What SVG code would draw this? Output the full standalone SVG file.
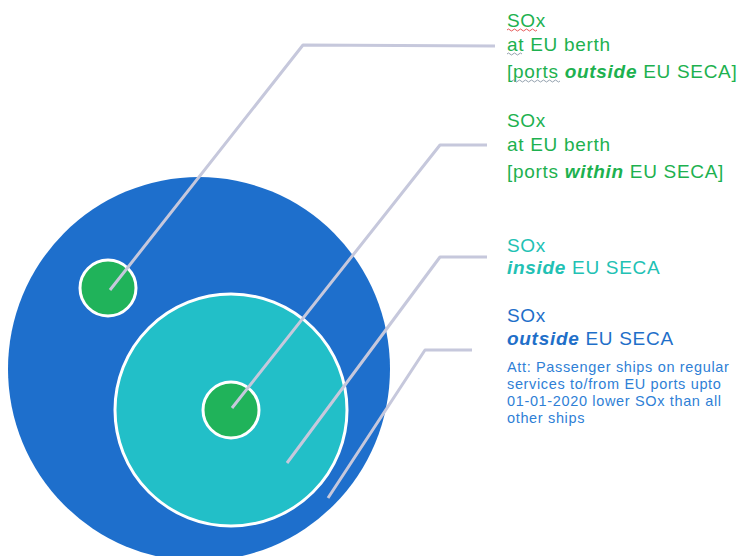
<svg xmlns="http://www.w3.org/2000/svg" width="743" height="556" viewBox="0 0 743 556">
<style>
text{font-family:"Liberation Sans",Arial,sans-serif;}
.t{font-size:19px;letter-spacing:0.7px;}
.s{font-size:14.5px;letter-spacing:0.65px;fill:#2f7fd6;}
.g{fill:#1db14f;}
.c{fill:#22c1b4;}
.b{fill:#1f6fc9;}
.bi{font-weight:bold;font-style:italic;}
.ln{fill:none;stroke:#c6c8dc;stroke-width:3;stroke-linejoin:round;}
.sq{fill:none;stroke:#e03030;stroke-width:0.8;}
.sg{fill:none;stroke:#7a8a9a;stroke-width:0.8;}
</style>
<rect width="743" height="556" fill="#ffffff"/>
<g id="outer-circle"><ellipse cx="199" cy="369" rx="191" ry="192" fill="#1e6fcc"/></g>
<g id="teal-circle"><circle cx="231" cy="410" r="116" fill="#22bfc8" stroke="#ffffff" stroke-width="3"/></g>
<g id="green-small-1"><circle cx="108" cy="288" r="28" fill="#20b35a" stroke="#ffffff" stroke-width="3"/></g>
<g id="green-small-2"><circle cx="231" cy="410" r="28" fill="#20b35a" stroke="#ffffff" stroke-width="3"/></g>
<g id="connectors">
<polyline class="ln" points="110,290 303,45 495,46"/>
<polyline class="ln" points="232,408 440,145 487,145"/>
<polyline class="ln" points="287,463 440,257 487,257"/>
<polyline class="ln" points="328,498 425,350 472,350"/>
</g>
<g id="label-1">
<text class="t g" x="507" y="27">SOx</text>
<text class="t g" x="507" y="51">at EU berth</text>
<text class="t g" x="507" y="78">[ports <tspan class="bi">outside</tspan> EU SECA]</text>
<path class="sq" d="M507,30 q1.5,-2 3,0 t3,0 t3,0 t3,0 t3,0 t3,0 t3,0 t3,0 t3,0 t3,0"/>
<path class="sg" d="M507,54 q1.5,-2 3,0 t3,0 t3,0 t3,0 t3,0"/>
<path class="sg" d="M512,81 q1.5,-2 3,0 t3,0 t3,0 t3,0 t3,0 t3,0 t3,0 t3,0 t3,0 t3,0 t3,0 t3,0 t3,0 t3,0 t3,0 t3,0"/>
</g>
<g id="label-2">
<text class="t g" x="507" y="127">SOx</text>
<text class="t g" x="507" y="151">at EU berth</text>
<text class="t g" x="507" y="178">[ports <tspan class="bi">within</tspan> EU SECA]</text>
</g>
<g id="label-3">
<text class="t c" x="507" y="252">SOx</text>
<text class="t c" x="507" y="274"><tspan class="bi">inside</tspan> EU SECA</text>
</g>
<g id="label-4">
<text class="t b" x="507" y="322">SOx</text>
<text class="t b" x="507" y="345"><tspan class="bi">outside</tspan> EU SECA</text>
<text class="s" x="507" y="372">Att: Passenger ships on regular</text>
<text class="s" x="507" y="389">services to/from EU ports upto</text>
<text class="s" x="507" y="406">01-01-2020 lower SOx than all</text>
<text class="s" x="507" y="423">other ships</text>
</g>
</svg>
